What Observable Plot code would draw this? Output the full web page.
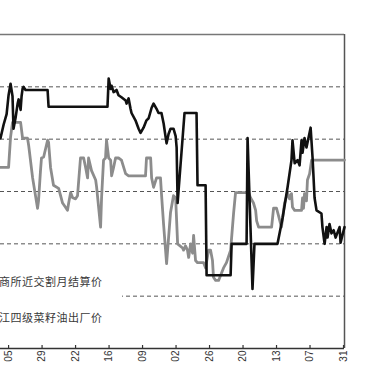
<!DOCTYPE html>
<html>
<head>
<meta charset="utf-8">
<script src="https://cdn.jsdelivr.net/npm/d3@7"></script>
<script src="https://cdn.jsdelivr.net/npm/@observablehq/plot@0.6"></script>
<style>
  html, body { margin: 0; padding: 0; background: #fff; overflow: hidden; }
  #wrap { position: relative; width: 368px; height: 368px; }
  #legend { position: absolute; left: 0; top: 268px; width: 122px; height: 62px; background: #fff; }
  .lg { position: absolute; left: -1px; font-family: "Noto Sans CJK SC", sans-serif; font-size: 11px; letter-spacing: 0.5px; color: #3a3a3a; line-height: 14px; white-space: nowrap; }
</style>
</head>
<body>
<div id="wrap"></div>
<script>
// x: trading-day index (tick every 17 days), y: price
const tickDays = [0, 17, 34, 51, 68, 85, 102, 119, 136, 153, 170];
const tickLabels = ["05", "29", "22", "16", "09", "02", "26", "20", "13", "07", "31"];
const gridValues = [7500, 8000, 8500, 9000, 9500];
const xDomain = [-4.1, 170.5];
const yDomain = [7000, 10000];
const legendLabels = ["商所近交割月结算价", "江四级菜籽油出厂价"];

const blackDay = [-4.1, -2.5, -1.0, 0, 1.0, 2.0, 2.5, 3.6, 4.6, 5.1, 6.1, 6.6, 7.1, 7.6, 8.6, 19.8, 20.3, 50.2,
  50.8, 51.8, 52.3, 53.3, 54.8, 55.8, 57.3, 59.4, 59.9, 60.9, 61.9, 62.4, 64.4, 66.0, 67.0, 68.5, 70.0, 71.1,
  72.6, 73.6, 75.1, 76.1, 77.6, 78.7, 79.7, 80.2, 81.2, 82.2, 83.7, 84.8, 85.3, 85.8, 89.3, 95.4, 95.9, 100.0,
  100.5, 112.7, 113.2, 120.8, 121.3, 123.8, 124.8, 136.5, 139.1, 141.6, 143.6, 144.1, 145.2, 146.7, 147.7,
  148.7, 149.2, 150.2, 151.2, 153.3, 154.3, 155.3, 156.3, 158.8, 159.3, 160.4, 161.4, 161.9, 162.9, 163.9,
  165.0, 166.0, 168.0, 168.5, 170.5];
const blackPrice = [9010, 9140, 9240, 9420, 9530, 9410, 9100, 9210, 9340, 9380, 9280, 9410, 9480, 9500, 9470, 9470, 9310, 9310,
  9580, 9480, 9510, 9450, 9470, 9420, 9400, 9370, 9340, 9390, 9290, 9250, 9180, 9100, 9060, 9110, 9180, 9200,
  9300, 9340, 9290, 9250, 9250, 9150, 9020, 8960, 9050, 9100, 9100, 9030, 8920, 8390, 9250, 9250, 8560, 8560,
  7700, 7700, 8000, 8000, 9010, 7570, 8000, 8000, 8250, 8540, 8800, 8990, 8770, 8800, 8750,
  8990, 8870, 9010, 8920, 9110, 8820, 8440, 8320, 8290, 8160, 8000, 8160, 8060, 8190, 8100,
  8130, 8060, 8160, 8010, 8160];

const grayDay = [-4.1, 0, 1.0, 2.0, 6.1, 7.1, 9.6, 10.2, 12.2, 14.7, 15.2, 16.2, 16.7, 17.8, 19.8, 20.3, 21.3, 22.8,
  25.4, 26.4, 27.4, 28.9, 29.9, 30.5, 31.5, 32.5, 34.0, 35.0, 36.5, 38.1, 39.1, 40.1, 40.6, 42.1, 44.2, 44.7,
  46.7, 47.2, 48.2, 49.2, 49.7, 50.8, 51.8, 52.3, 53.3, 54.3, 55.8, 57.3, 59.4, 60.9, 69.5, 70.0, 72.1, 72.6,
  73.6, 75.1, 77.1, 77.6, 78.7, 80.2, 82.2, 83.7, 84.8, 85.8, 88.3, 88.8, 89.8, 90.8, 91.4, 92.4, 93.4, 93.9,
  94.9, 95.9, 99.0, 100.0, 101.5, 102.5, 103.5, 104.0, 105.1, 106.6, 109.1, 110.6, 112.7, 114.2, 115.2, 121.8,
  122.8, 124.3, 125.4, 125.9, 126.9, 133.5, 134.5, 136.0, 137.0, 138.5, 139.1, 140.1, 141.6, 142.6, 143.6,
  144.1, 145.2, 148.7, 149.2, 149.7, 150.2, 151.2, 151.7, 152.8, 153.8, 170.5];
const grayPrice = [8730, 8730, 9020, 9160, 9160, 9010, 9010, 8940, 8630, 8340, 8410, 8700, 8820, 8830, 8990, 8970, 8730, 8560,
  8530, 8460, 8390, 8350, 8320, 8390, 8490, 8440, 8430, 8460, 8820, 8820, 8730, 8630, 8820, 8700, 8610, 8540,
  8160, 8440, 8800, 8820, 8990, 8820, 8800, 8650, 8730, 8820, 8820, 8800, 8670, 8650, 8650, 8820, 8820, 8630,
  8540, 8630, 8630, 8480, 8180, 7810, 8300, 8460, 8440, 8000, 7960, 7940, 7980, 7940, 7870, 8000, 7910, 8080,
  7840, 7820, 7820, 7770, 7940, 7940, 7840, 7680, 7650, 7650, 7770, 7820, 7940, 8290, 8490, 8490,
  8440, 8390, 8320, 8220, 8160, 8160, 8340, 8340, 8270, 8160, 8250, 8390, 8490, 8430, 8480,
  8350, 8320, 8320, 8440, 8340, 8480, 8410, 8610, 8670, 8800, 8800];

const black = blackDay.map((d, i) => ({day: d, price: blackPrice[i]}));
const gray = grayDay.map((d, i) => ({day: d, price: grayPrice[i]}));
const labelOf = new Map(tickDays.map((d, i) => [d, tickLabels[i]]));

const chart = Plot.plot({
  width: 368,
  height: 368,
  marginTop: 34,
  marginBottom: 20,
  marginLeft: 0,
  marginRight: 24,
  style: {background: "#fff", fontFamily: "'Liberation Sans', Arial, sans-serif"},
  x: {domain: xDomain, axis: null, label: null},
  y: {domain: yDomain, axis: null, label: null},
  marks: [
    Plot.ruleY(gridValues, {stroke: "#555", strokeWidth: 1, strokeDasharray: "4,3"}),
    Plot.ruleY([yDomain[1]], {stroke: "#777", strokeWidth: 1.5}),
    Plot.ruleX([xDomain[1]], {stroke: "#555", strokeWidth: 1.5}),
    Plot.line(gray, {x: "day", y: "price", stroke: "#8c8c8c", strokeWidth: 2.8, strokeLinejoin: "round"}),
    Plot.line(black, {x: "day", y: "price", stroke: "#111", strokeWidth: 2.6, strokeLinejoin: "round"}),
    Plot.ruleY([yDomain[0]], {stroke: "#333", strokeWidth: 1.5}),
    Plot.ruleX(tickDays, {x: d => d, y1: yDomain[0], y2: yDomain[0], insetTop: -3, stroke: "#333", strokeWidth: 1.2}),
    Plot.axisX(tickDays, {label: null, tickSize: 0, tickPadding: 2, tickRotate: -90, tickFormat: d => labelOf.get(d), fontSize: 10, fill: "#333"})
  ]
});

const wrap = document.getElementById("wrap");
wrap.appendChild(chart);
const legend = document.createElement("div");
legend.id = "legend";
legendLabels.forEach((t, i) => {
  const s = document.createElement("div");
  s.className = "lg";
  s.style.top = (6 + i * 36) + "px";
  s.textContent = t;
  legend.appendChild(s);
});
wrap.appendChild(legend);
</script>
</body>
</html>
